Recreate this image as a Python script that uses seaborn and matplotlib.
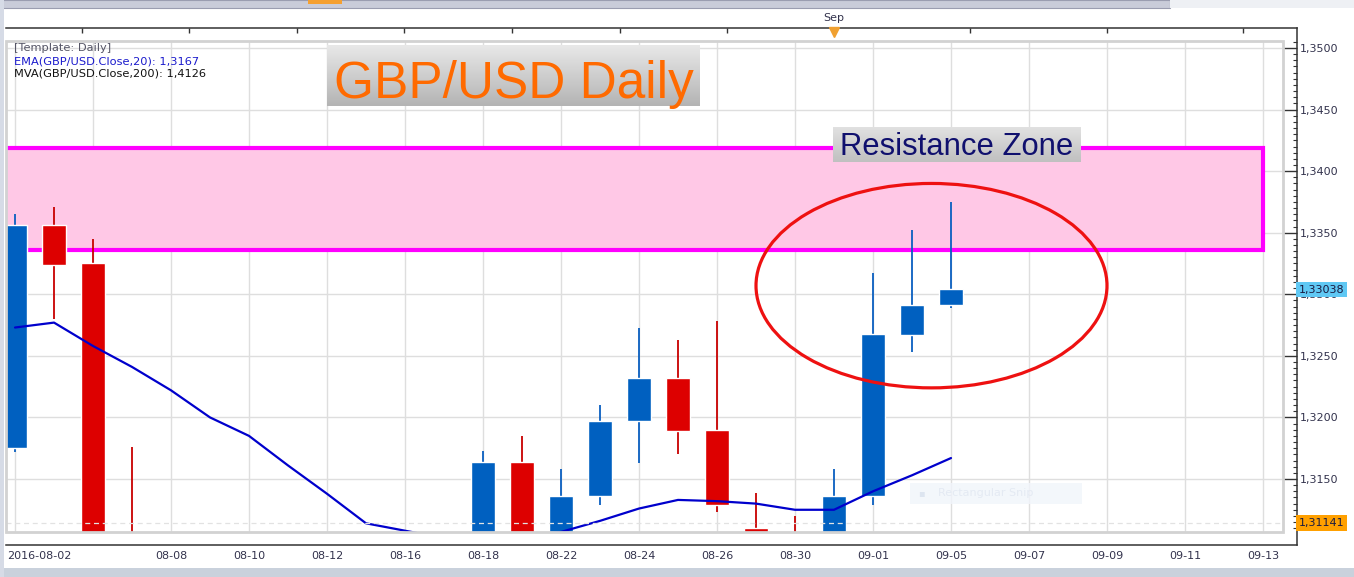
import numpy as np
import pandas as pd
import seaborn as sns
import matplotlib.pyplot as plt
import matplotlib.transforms as mtransforms
from matplotlib.patches import Rectangle, Ellipse
from matplotlib.ticker import FuncFormatter, MultipleLocator
from matplotlib.colors import LinearSegmentedColormap

# trading days 2016-08-02 .. 2016-09-05 (index = trading day number)
days = ['08-02', '08-03', '08-04', '08-05', '08-08', '08-09', '08-10', '08-11', '08-12',
        '08-15', '08-16', '08-17', '08-18', '08-19', '08-22', '08-23', '08-24', '08-25',
        '08-26', '08-29', '08-30', '08-31', '09-01', '09-02', '09-05']
opens = [1.3175, 1.3356, 1.3325, 1.3098, 1.3045, 1.3010, 1.3005, 1.3015, 1.2980,
         1.2950, 1.2930, 1.3050, 1.3040, 1.3164, 1.3080, 1.3136, 1.3197, 1.3232,
         1.3190, 1.3110, 1.3095, 1.3080, 1.3136, 1.3267, 1.3291]
highs = [1.3365, 1.3371, 1.3345, 1.3176, 1.3065, 1.3030, 1.3040, 1.3030, 1.3000,
         1.2970, 1.3060, 1.3070, 1.3173, 1.3185, 1.3158, 1.3210, 1.3273, 1.3263,
         1.3278, 1.3139, 1.3120, 1.3158, 1.3317, 1.3352, 1.3375]
lows = [1.3172, 1.3280, 1.3085, 1.3040, 1.2995, 1.2985, 1.2990, 1.2965, 1.2940,
        1.2915, 1.2920, 1.2990, 1.3030, 1.3070, 1.3060, 1.3129, 1.3163, 1.3170,
        1.3123, 1.3080, 1.3060, 1.3075, 1.3129, 1.3253, 1.3289]
closes = [1.3356, 1.3324, 1.3095, 1.3050, 1.3010, 1.3005, 1.3015, 1.2980, 1.2950,
          1.2930, 1.3050, 1.3040, 1.3164, 1.3080, 1.3136, 1.3197, 1.3232, 1.3189,
          1.3129, 1.3095, 1.3070, 1.3136, 1.3268, 1.3291, 1.3304]
ema20 = [1.3273, 1.3277, 1.3258, 1.3241, 1.3222, 1.3200, 1.3185, 1.3161, 1.3138,
         1.3114, 1.3108, 1.3102, 1.3100, 1.3102, 1.3107, 1.3116, 1.3126, 1.3133,
         1.3132, 1.3130, 1.3125, 1.3125, 1.3140, 1.3153, 1.3167]

xtick_labels = ['2016-08-02', '08-04', '08-08', '08-10', '08-12', '08-16', '08-18', '08-22',
                '08-24', '08-26', '08-30', '09-01', '09-05', '09-07', '09-09', '09-11', '09-13']
top_ticks = [1.72, 4.46, 7.23, 9.97, 12.74, 15.51, 18.26, 21.0, 24.49, 28.0, 31.49]
sep_pos = 21.0
zone_low, zone_high, zone_end = 1.3336, 1.3419, 32
circle_x, circle_y, circle_w, circle_h = 23.5, 1.3307, 9.0, 0.0166
last_price = 1.33038
low_mark = 1.31141

df = pd.DataFrame({'day': days, 'open': opens, 'high': highs, 'low': lows,
                   'close': closes, 'ema': ema20})
df['x'] = np.arange(len(df))
df['up'] = df['close'] >= df['open']

sns.set_style('white')
plt.rcParams['font.family'] = ['DejaVu Sans']

W, H = 1354, 577
fx = lambda px: px / W
fy = lambda py: 1 - py / H

fig = plt.figure(figsize=(W / 100, H / 100), dpi=100)
fig.patch.set_facecolor('white')

# window chrome around the chart
fig.patches.append(Rectangle((0, fy(8)), fx(1170), 8 / H, transform=fig.transFigure,
                             fc='#c9ccd9', ec='#9a9db0', lw=0.8))
fig.patches.append(Rectangle((fx(1170), fy(8)), 1 - fx(1170), 8 / H, transform=fig.transFigure,
                             fc='#eef0f4', ec='none'))
fig.patches.append(Rectangle((fx(308), fy(4)), fx(34), 4 / H, transform=fig.transFigure,
                             fc='#f5a030', ec='none'))
fig.patches.append(Rectangle((0, 0), fx(4), 1, transform=fig.transFigure, fc='#d6dbe6', ec='none'))
fig.patches.append(Rectangle((fx(4), 0), 1, 9 / H, transform=fig.transFigure, fc='#c9d1dc', ec='none'))

ax = fig.add_axes([fx(6), fy(532), fx(1283) - fx(6), fy(41) - fy(532)])
ax.set_facecolor('white')
ax.set_xlim(-0.231, 32.513)
ax.set_ylim(1.310695, 1.350568)

# resistance zone
ax.add_patch(Rectangle((-1, zone_low), zone_end + 1, zone_high - zone_low,
                       fc='#ffc8e6', ec='#ff00ff', lw=3, zorder=1.5))

# candles
up = df[df['up']]
dn = df[~df['up']]
ax.vlines(up['x'], up['low'], up['high'], colors='#0a5fc0', lw=1.3, zorder=2.6)
ax.vlines(dn['x'], dn['low'], dn['high'], colors='#c80000', lw=1.3, zorder=2.6)
ax.bar(up['x'], up['close'] - up['open'], bottom=up['open'], width=0.62,
       color='#0060c0', zorder=3)
ax.bar(dn['x'], dn['open'] - dn['close'], bottom=dn['close'], width=0.62,
       color='#dd0000', zorder=3)

sns.lineplot(data=df, x='x', y='ema', ax=ax, color='#0000cc', lw=1.6, zorder=4)

ax.axhline(low_mark, color='#e2e2e2', lw=0.9, ls=(0, (4, 3)), zorder=6)

ax.add_patch(Ellipse((circle_x, circle_y), circle_w, circle_h, fill=False,
                     ec='#ee1111', lw=2.3, zorder=7))

# axes / ticks
ax.set_xticks(range(0, 33, 2))
ax.set_xticklabels(xtick_labels)
ax.xaxis.set_minor_locator(MultipleLocator(0.5))
ax.set_yticks(np.arange(1.315, 1.3501, 0.005))
ax.yaxis.set_minor_locator(MultipleLocator(0.0005))
ax.yaxis.set_major_formatter(FuncFormatter(lambda v, p: f'{v:.4f}'.replace('.', ',')))
ax.yaxis.tick_right()
ax.set_xlabel('')
ax.set_ylabel('')
ax.grid(True, which='major', color='#dedede', lw=1)
ax.set_axisbelow(True)

for s in ['left', 'top']:
    ax.spines[s].set_visible(False)
ax.spines['right'].set_position(('outward', 10.1))
ax.spines['bottom'].set_position(('outward', 9.4))
for s in ['right', 'bottom']:
    ax.spines[s].set_color('#333333')
    ax.spines[s].set_linewidth(1.1)
ax.spines['right'].set_bounds(1.30964, 1.35162)
ax.spines['bottom'].set_bounds(-0.231, 32.87)

ax.tick_params(axis='y', which='major', direction='in', length=10, width=1, color='#333333',
               labelcolor='#33334d', labelsize=8, pad=2)
ax.tick_params(axis='y', which='minor', direction='in', length=3, width=0.8, color='#333333')
ax.tick_params(axis='x', which='major', direction='in', length=9.4, width=1, color='#333333',
               labelcolor='#33334d', labelsize=8, pad=4)
ax.tick_params(axis='x', which='minor', direction='in', length=3.2, width=0.8, color='#333333')

lbls = ax.get_xticklabels()
lbls[0].set_ha('left')
lbls[0].set_transform(lbls[0].get_transform() +
                      mtransforms.ScaledTranslation(-0.08, 0, fig.dpi_scale_trans))
lbls[1].set_visible(False)

ax.add_patch(Rectangle((0, 0), 1, 1, transform=ax.transAxes, fill=False, ec='#d2d2d2',
                       lw=2, clip_on=False, zorder=8))

top = ax.secondary_xaxis('top')
top.set_xticks(top_ticks)
top.set_xticklabels([])
top.spines['top'].set_position(('outward', 9.4))
top.spines['top'].set_color('#333333')
top.spines['top'].set_linewidth(1.1)
top.spines['top'].set_bounds(-0.231, 32.87)
top.tick_params(direction='in', length=3.8, width=1, color='#333333')

tr_top = mtransforms.blended_transform_factory(ax.transData, fig.transFigure)
ax.text(sep_pos, fy(18), 'Sep', transform=tr_top, ha='center', va='center',
        fontsize=8, color='#33334d')
ax.plot([sep_pos], [fy(32)], marker='v', ms=7, color='#f0a030', transform=tr_top,
        clip_on=False, zorder=10)

tr_r = mtransforms.blended_transform_factory(ax.transAxes, ax.transData)
ax.text(1.0125, last_price, f'{last_price:.5f}'.replace('.', ','), transform=tr_r,
        ha='left', va='center', fontsize=8, color='#1a1a40', zorder=10, clip_on=False,
        bbox=dict(boxstyle='square,pad=0.25', fc='#5fc8f4', ec='none'))
ax.text(1.0125, low_mark, f'{low_mark:.5f}'.replace('.', ','), transform=tr_r,
        ha='left', va='center', fontsize=8, color='#1a1a40', zorder=10, clip_on=False,
        bbox=dict(boxstyle='square,pad=0.25', fc='#ffa000', ec='none'))

# indicator legend
fig.text(fx(14), fy(48), '[Template: Daily]', fontsize=8.2, color='#555566', va='center')
fig.text(fx(14), fy(61), 'EMA(GBP/USD.Close,20): ' + f'{ema20[-1]:.4f}'.replace('.', ','),
         fontsize=8.2, color='#1a1acc', va='center')
fig.text(fx(14), fy(74), 'MVA(GBP/USD.Close,200): 1,4126', fontsize=8.2, color='#111111',
         va='center')

# faint snipping tool overlay
fig.patches.append(Rectangle((fx(910), fy(504)), fx(172), 21 / H, transform=fig.transFigure,
                             fc='#f1f5fb', ec='none', alpha=0.8))
fig.text(fx(918), fy(493.5), '\u25aa', fontsize=7, color='#dde5f0', va='center')
fig.text(fx(938), fy(493.5), 'Rectangular Snip', fontsize=8, color='#e4eaf3', va='center')


def label_box(l, t, r, b, text, color, size, c_top, c_bot, base):
    bax = fig.add_axes([fx(l), fy(b), fx(r) - fx(l), fy(t) - fy(b)])
    grad = np.linspace(0, 1, 64).reshape(-1, 1)
    bax.imshow(grad, aspect='auto', extent=[0, 1, 0, 1],
               cmap=LinearSegmentedColormap.from_list('g', [c_top, c_bot]))
    bax.axis('off')
    bax.text(0.5, base, text, ha='center', va='baseline', fontsize=size, color=color,
             family=['Liberation Sans', 'DejaVu Sans'], transform=bax.transAxes)
    return bax


label_box(327, 45, 700, 106, 'GBP/USD Daily', '#ff6a00', 37, '#e8e8e8', '#b4b4b4', 0.13)
label_box(833, 127, 1080, 162, 'Resistance Zone', '#10106e', 22.3, '#e2e2e2', '#c0c0c0', 0.2)

fig.savefig('out.png', dpi=100)
